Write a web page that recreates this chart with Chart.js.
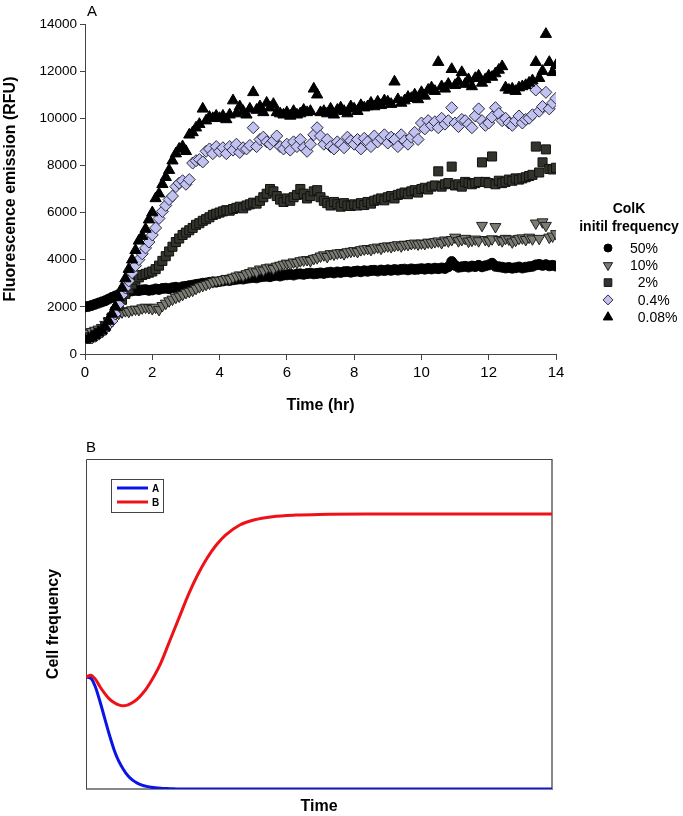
<!DOCTYPE html>
<html lang="en">
<head>
  <meta charset="utf-8">
  <title>ColK fluorescence and cell frequency</title>
  <style>
    body { margin: 0; background: #fff; font-family: "Liberation Sans", Arial, sans-serif; }
    .wrap { position: relative; width: 683px; height: 816px; }
    .panel { position: absolute; left: 0; width: 683px; }
    .tag { position: absolute; font-size: 15px; color: #000; line-height: 16px; }
  </style>
</head>
<body>
<div class="wrap">
  <div class="panel" style="top:0;height:430px"><canvas id="chartA"></canvas></div>
  <div class="panel" style="top:430px;height:386px"><canvas id="chartB"></canvas></div>
  <div class="tag" style="left:87px;top:3px">A</div>
  <div class="tag" style="left:86px;top:439px">B</div>
</div>

<script src="https://cdn.jsdelivr.net/npm/chart.js"></script>
<script>
  // ---- panel A: fluorescence, one reading every 0.1 hr from 0 to 14 hr ----
  const stepHr = 0.1;
  const freqLabels = ['50%', '10%', '  2%', '  0.4%', '  0.08%'];

  const rfu50 = [
    2000,2020,2060,2110,2160,2210,2260,2330,2400,2460,
    2520,2580,2620,2650,2680,2700,2690,2720,2730,2700,
    2720,2760,2740,2780,2790,2770,2810,2830,2800,2850,
    2870,2900,2920,2950,2970,3000,3010,3040,3060,3050,
    3080,3100,3130,3120,3150,3170,3190,3180,3210,3230,
    3250,3230,3270,3290,3300,3280,3320,3340,3310,3350,
    3360,3380,3350,3390,3400,3380,3410,3430,3400,3420,
    3440,3420,3450,3470,3440,3480,3460,3490,3500,3470,
    3500,3520,3490,3530,3510,3540,3550,3520,3560,3540,
    3570,3550,3580,3560,3590,3600,3570,3610,3590,3600,
    3620,3600,3630,3610,3640,3620,3650,3630,3700,3920,
    3760,3680,3700,3720,3690,3730,3710,3760,3700,3740,
    3780,3850,3720,3700,3680,3650,3670,3640,3660,3690,
    3650,3680,3700,3720,3780,3800,3760,3790,3740,3760,
    3730
  ];
  const rfu10 = [
    900,880,950,1000,1050,1120,1250,1400,1550,1650,
    1720,1780,1830,1800,1870,1900,1880,1950,1980,1960,
    1920,1980,1880,2050,2150,2250,2320,2400,2450,2520,
    2600,2650,2700,2780,2850,2900,2950,3000,3060,3100,
    3120,3150,3200,3180,3250,3300,3350,3320,3400,3450,
    3520,3480,3600,3550,3650,3680,3620,3720,3760,3800,
    3850,3820,3900,3880,3950,3980,4000,3960,4050,4080,
    4150,4200,4130,4250,4230,4280,4300,4250,4330,4350,
    4380,4340,4420,4450,4470,4430,4500,4530,4480,4560,
    4580,4550,4600,4630,4580,4650,4640,4680,4700,4660,
    4700,4680,4740,4720,4760,4790,4720,4830,4790,4850,
    4950,4800,4850,4900,4780,4820,4870,4800,5450,4850,
    4800,4880,5400,4850,4800,4900,4870,4750,4820,4900,
    4920,4850,4950,4880,5550,4900,5600,5450,4950,5000,
    5100
  ];
  const rfu2 = [
    700,650,720,800,900,1000,1150,1350,1550,1800,
    2050,2300,2550,2750,2950,3150,3250,3350,3400,3450,
    3500,3600,3750,3950,4150,4350,4550,4750,4900,5050,
    5150,5250,5350,5480,5550,5650,5720,5800,5900,5950,
    6000,6050,6100,6080,6150,6200,6250,6180,6300,6350,
    6420,6380,6500,6650,6800,7000,6900,6700,6550,6450,
    6600,6500,6650,6750,7000,6800,6600,6700,6900,6950,
    6650,6500,6400,6300,6450,6350,6250,6400,6300,6280,
    6350,6300,6400,6320,6450,6380,6500,6550,6600,6520,
    6650,6700,6600,6750,6800,6850,6780,6900,6950,6850,
    7000,7050,6980,7100,7150,7750,7100,7200,7250,7950,
    7150,7200,7100,7300,7250,7200,7250,7300,8130,7300,
    7250,8380,7200,7350,7250,7300,7400,7350,7450,7400,
    7450,7500,7550,7600,8800,7700,8130,8680,7850,7830,
    7900
  ];
  const rfu04 = [
    650,700,680,750,850,950,1100,1250,1400,1700,
    2100,2500,2800,3100,3450,3750,4000,4250,4500,4750,
    5050,5350,5750,6050,6300,6550,6700,7100,7250,7350,
    7200,7400,8100,8200,8250,8150,8600,8700,8500,8800,
    8600,8750,8500,8800,8650,8900,8550,8750,8700,8850,
    9600,8800,9100,9200,9000,8900,9050,9250,8800,8700,
    8900,8650,9000,8800,9100,8750,8600,8900,9300,9600,
    9250,8900,9100,8800,8700,9000,8900,8750,9200,9050,
    8900,9100,8700,9150,9000,8800,9250,9000,9150,9300,
    8950,9200,9100,8800,9300,9050,8900,9200,9400,9100,
    9800,9550,9900,9700,9850,9600,10000,9750,9900,10450,
    9800,9650,9950,9900,9750,9600,10100,10400,9900,9700,
    9800,10050,10450,10200,9900,10000,9800,9700,9900,10100,
    9800,9950,10000,10150,11200,10300,10500,11100,10400,10650,
    10850
  ];
  const rfu008 = [
    600,650,700,800,900,1000,1150,1400,1700,2000,
    2400,2800,3200,3600,4000,4400,4800,5000,5300,5700,
    6000,6600,6800,7200,7500,7800,8200,8500,8700,8800,
    8600,9300,9400,9600,9750,10400,9900,10050,10000,10100,
    10000,10100,9950,10150,10750,10200,10500,10300,10150,10400,
    11100,10350,10500,10250,10650,10450,10600,10250,10200,10150,
    10250,10100,10300,10150,10200,10350,10250,10300,11250,11000,
    10250,10300,10200,10400,10150,10350,10450,10300,10200,10500,
    10400,10300,10550,10450,10500,10650,10500,10700,10550,10750,
    10700,10600,11550,10800,10650,10750,10900,10850,11000,10800,
    11100,10950,11200,11300,11150,12380,11350,11250,11450,12080,
    11400,11550,11950,11450,11650,11350,11700,11800,11500,11650,
    11800,11750,11900,12050,12200,11300,11200,11250,11150,11300,
    11350,11400,11500,11600,12380,11700,12000,13570,12380,11950,
    12250
  ];

  // ---- panel B: model curves (arbitrary time units, frequency 0..1) ----
  const modelTime = [0,1,2,3,4,5,6,7,8,9,10,11,12,13,14,16,18,20,22,24,26,28,30,33,36,40,45,50,60,70,80,90,100];
  const freqA = [0.339,0.336,0.31,0.265,0.215,0.165,0.12,0.085,0.06,0.04,0.027,0.018,0.012,0.008,0.005,0.002,0.001,0,0,0,0,0,0,0,0,0,0,0,0,0,0,0,0];
  const freqB = [0.339,0.345,0.333,0.31,0.29,0.273,0.262,0.255,0.252,0.255,0.262,0.272,0.287,0.305,0.327,0.38,0.45,0.52,0.59,0.65,0.70,0.74,0.77,0.80,0.815,0.825,0.83,0.832,0.833,0.833,0.833,0.833,0.833];

  Chart.defaults.font.family = '"Liberation Sans", Arial, sans-serif';
  Chart.defaults.color = '#000';

  const toPoints = arr => arr.map((v, i) => ({ x: Math.round(i * stepHr * 10) / 10, y: v }));

  const markerStyles = [
    { pointStyle: 'circle',   radius: 5,   rotation: 0,   fill: '#000000', edge: '#000000' },
    { pointStyle: 'triangle', radius: 6.3, rotation: 180, fill: '#7c7c74', edge: '#1e1e1e' },
    { pointStyle: 'rect',     radius: 6.4, rotation: 0,   fill: '#33342c', edge: '#111111' },
    { pointStyle: 'rectRot',  radius: 6,   rotation: 0,   fill: '#c2c2f2', edge: '#2a2a3a' },
    { pointStyle: 'triangle', radius: 6.5, rotation: 0,   fill: '#000000', edge: '#000000' }
  ];
  const seriesA = [rfu50, rfu10, rfu2, rfu04, rfu008];

  const datasetsA = seriesA.map((arr, k) => ({
    label: freqLabels[k],
    data: toPoints(arr),
    pointStyle: markerStyles[k].pointStyle,
    pointRadius: markerStyles[k].radius,
    pointRotation: markerStyles[k].rotation,
    pointBackgroundColor: markerStyles[k].fill,
    pointBorderColor: markerStyles[k].edge,
    pointBorderWidth: 1,
    showLine: false,
    order: 5 - k
  }));

  // legend on the right of panel A
  const legendA = {
    id: 'legendA',
    afterDraw(chart) {
      const ctx = chart.ctx;
      const r = chart.chartArea.right;
      ctx.save();
      ctx.fillStyle = '#000';
      ctx.textAlign = 'center';
      ctx.textBaseline = 'middle';
      ctx.font = 'bold 14px "Liberation Sans", Arial, sans-serif';
      ctx.fillText('ColK', r + 73, 209);
      ctx.fillText('initil frequency', r + 73, 227);
      ctx.textAlign = 'left';
      ctx.font = '14px "Liberation Sans", Arial, sans-serif';
      markerStyles.forEach((m, k) => {
        const y = 248 + k * 17.3;
        ctx.fillStyle = m.fill;
        ctx.strokeStyle = m.edge;
        ctx.lineWidth = 1;
        Chart.helpers.drawPoint(ctx, { pointStyle: m.pointStyle, radius: m.radius - 1, rotation: m.rotation, borderWidth: 1 }, r + 52, y);
        ctx.fillStyle = '#000';
        ctx.fillText(freqLabels[k], r + 74, y + 1);
      });
      ctx.restore();
    }
  };

  new Chart(document.getElementById('chartA'), {
    type: 'scatter',
    data: { datasets: datasetsA },
    options: {
      responsive: true,
      maintainAspectRatio: false,
      animation: false,
      layout: { padding: { left: 0, right: 127, top: 24, bottom: 0 } },
      plugins: { legend: { display: false }, tooltip: { enabled: false } },
      scales: {
        x: {
          type: 'linear', min: 0, max: 14,
          afterFit: s => { s.height = 76; },
          ticks: { stepSize: 2, font: { size: 15 }, padding: 4, callback: v => String(v) },
          grid: { drawOnChartArea: false, tickLength: 6, color: '#444' },
          border: { color: '#444', width: 1 },
          title: { display: true, text: 'Time (hr)', font: { size: 16, weight: 'bold' }, padding: { bottom: 15 } }
        },
        y: {
          type: 'linear', min: 0, max: 14000,
          afterFit: s => { s.width = 85; },
          ticks: { stepSize: 2000, font: { size: 13.5 }, padding: 3, callback: v => String(v) },
          grid: { drawOnChartArea: false, tickLength: 5, color: '#444' },
          border: { color: '#444', width: 1 },
          title: { display: true, text: 'Fluorescence emission (RFU)', font: { size: 16, weight: 'bold' }, padding: { top: 1 } }
        }
      }
    },
    plugins: [legendA]
  });

  // ---- panel B ----
  const frameB = {
    id: 'frameB',
    beforeDatasetsDraw(chart) {
      const { left, right, top, bottom } = chart.chartArea;
      const ctx = chart.ctx;
      ctx.save();
      ctx.lineWidth = 2;
      ctx.strokeStyle = '#888';
      ctx.beginPath();
      ctx.moveTo(left, bottom); ctx.lineTo(right, bottom); ctx.lineTo(right, top);
      ctx.stroke();
      ctx.lineWidth = 1;
      ctx.strokeStyle = '#444';
      ctx.beginPath();
      ctx.moveTo(right, top + 0.5); ctx.lineTo(left + 0.5, top + 0.5); ctx.lineTo(left + 0.5, bottom);
      ctx.stroke();
      ctx.restore();
    },
    afterDraw(chart) {
      const { left, top } = chart.chartArea;
      const ctx = chart.ctx;
      ctx.save();
      ctx.strokeStyle = '#444';
      ctx.lineWidth = 1;
      ctx.strokeRect(left + 25.5, top + 20.5, 52, 33);
      ctx.font = 'bold 10px "Liberation Sans", Arial, sans-serif';
      ctx.textBaseline = 'middle';
      chart.data.datasets.forEach((ds, k) => {
        const y = top + 29 + k * 14;
        ctx.strokeStyle = ds.borderColor;
        ctx.lineWidth = 3;
        ctx.beginPath();
        ctx.moveTo(left + 31, y); ctx.lineTo(left + 62, y);
        ctx.stroke();
        ctx.fillStyle = '#000';
        ctx.fillText(ds.label, left + 66, y + 1);
      });
      ctx.restore();
    }
  };

  new Chart(document.getElementById('chartB'), {
    type: 'line',
    data: {
      datasets: [
        { label: 'A', data: modelTime.map((t, i) => ({ x: t, y: freqA[i] })), borderColor: '#0a14e8', borderWidth: 3, pointRadius: 0, cubicInterpolationMode: 'monotone', order: 2 },
        { label: 'B', data: modelTime.map((t, i) => ({ x: t, y: freqB[i] })), borderColor: '#ec1218', borderWidth: 3, pointRadius: 0, cubicInterpolationMode: 'monotone', order: 1 }
      ]
    },
    options: {
      responsive: true,
      maintainAspectRatio: false,
      animation: false,
      layout: { padding: { left: 0, right: 131, top: 29, bottom: 0 } },
      plugins: { legend: { display: false }, tooltip: { enabled: false } },
      scales: {
        x: {
          type: 'linear', min: 0, max: 100,
          afterFit: s => { s.height = 27; },
          ticks: { display: false },
          grid: { display: false },
          border: { display: false },
          title: { display: true, text: 'Time', font: { size: 16, weight: 'bold' }, padding: { bottom: 0 } }
        },
        y: {
          type: 'linear', min: 0, max: 1,
          afterFit: s => { s.width = 86; },
          ticks: { display: false },
          grid: { display: false },
          border: { display: false },
          title: { display: true, text: 'Cell frequency', font: { size: 16, weight: 'bold' }, padding: { top: 44 } }
        }
      }
    },
    plugins: [frameB]
  });
</script>
</body>
</html>
